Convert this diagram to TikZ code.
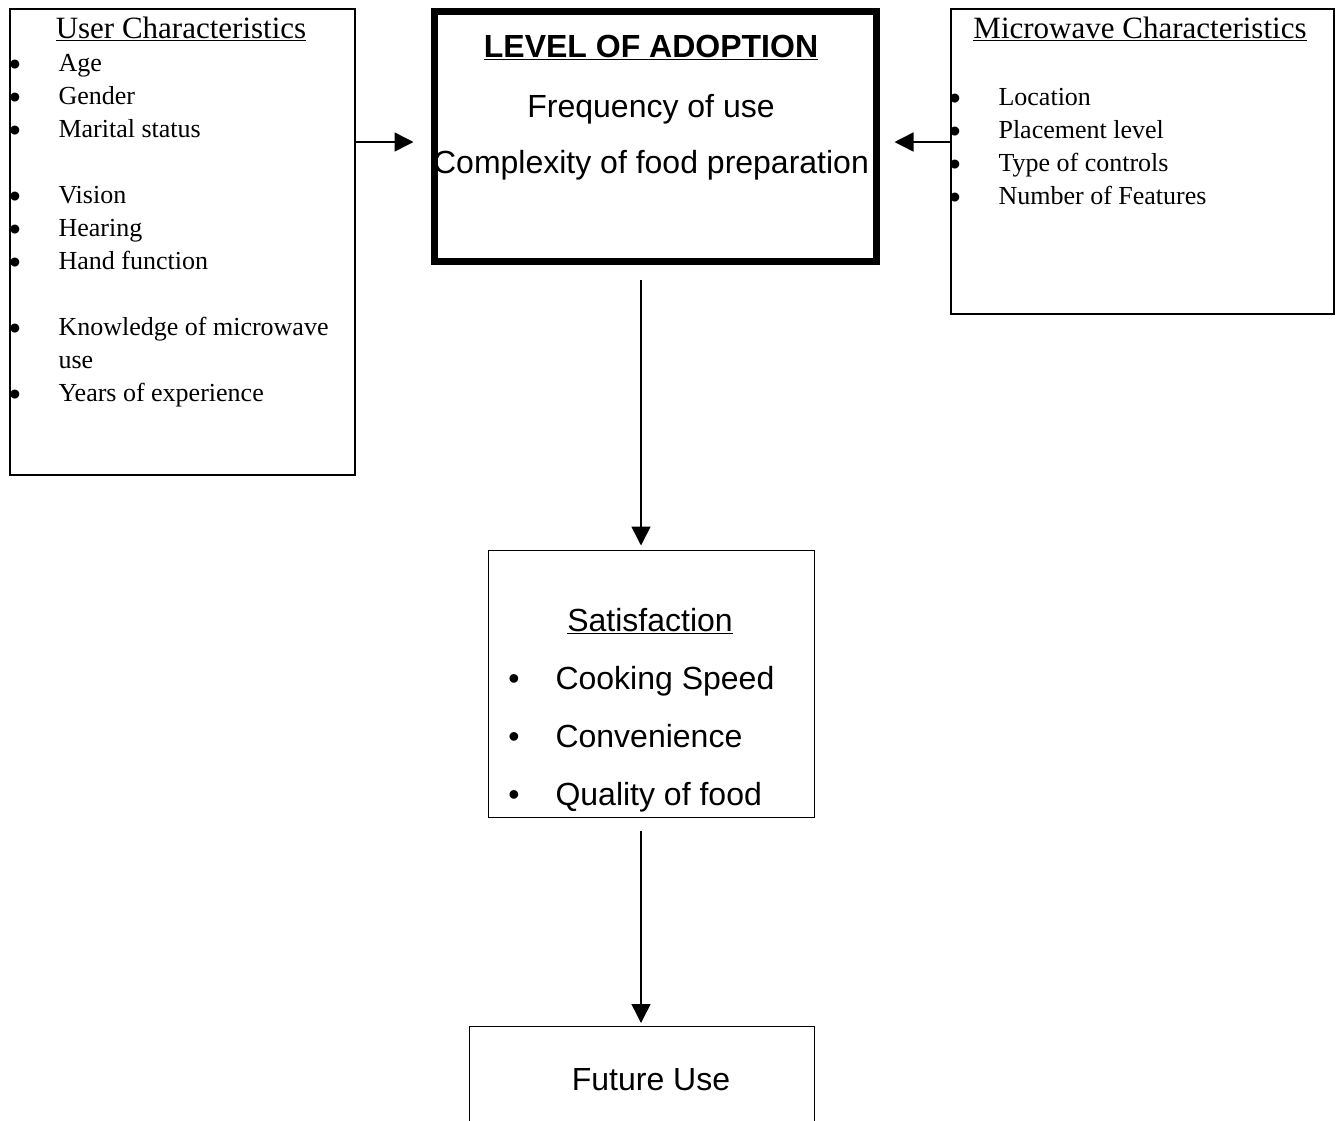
\documentclass[tikz,border=0pt]{standalone}
\usepackage{fontspec}
\setmainfont{Liberation Serif}
\setsansfont{Liberation Sans}
\usetikzlibrary{arrows.meta}

\begin{document}
\begin{tikzpicture}[x=1pt, y=-1pt,
  box/.style={draw, line width=#1, anchor=north west, inner sep=0pt},
  serifhead/.style={anchor=base, font=\fontsize{31}{36}\selectfont},
  serifitem/.style={anchor=base west, font=\fontsize{26}{30}\selectfont},
  serifdot/.style={anchor=base, yshift=-4pt, font=\sffamily\fontsize{33}{33}\selectfont},
  sanstext/.style={anchor=base, font=\sffamily\fontsize{32}{38}\selectfont},
  sansitem/.style={anchor=base west, font=\sffamily\fontsize{32}{38}\selectfont},
  sansdot/.style={anchor=base, font=\sffamily\fontsize{32}{38}\selectfont},
  link/.style={line width=1.5pt, -{Triangle[length=19pt,width=19pt]}}]
  \useasboundingbox (0,0) rectangle (1337,1120);

  % boxes
  \node[box=2pt, minimum width=345pt, minimum height=466pt] (user) at (9,8) {};
  \node[box=7pt, minimum width=442pt, minimum height=250pt] (adopt) at (430.5,7.5) {};
  \node[box=2pt, minimum width=383pt, minimum height=305pt] (micro) at (949.5,8) {};
  \node[box=1pt, minimum width=326.5pt, minimum height=267.5pt] (sat) at (487.5,549.5) {};
  \node[box=1pt, minimum width=345.5pt, minimum height=200pt] (future) at (468.5,1025.5) {};

  % user characteristics
  \node[serifhead] (usertitle) at (181,38) {\underline{User Characteristics}};
  \node[serifdot] (ub1) at (15,71) {•};
  \node[serifitem] (uage) at (55,71) {Age};
  \node[serifdot] (ub2) at (15,104) {•};
  \node[serifitem] (ugender) at (55,104) {Gender};
  \node[serifdot] (ub3) at (15,137) {•};
  \node[serifitem] (umarital) at (55,137) {Marital status};
  \node[serifdot] (ub4) at (15,203) {•};
  \node[serifitem] (uvision) at (55,203) {Vision};
  \node[serifdot] (ub5) at (15,236) {•};
  \node[serifitem] (uhearing) at (55,236) {Hearing};
  \node[serifdot] (ub6) at (15,269) {•};
  \node[serifitem] (uhand) at (55,269) {Hand function};
  \node[serifdot] (ub7) at (15,335) {•};
  \node[serifitem] (uknow) at (55,335) {Knowledge of microwave};
  \node[serifitem] (uknowb) at (55,368) {use};
  \node[serifdot] (ub8) at (15,401) {•};
  \node[serifitem] (uyears) at (55,401) {Years of experience};

  % level of adoption
  \node[sanstext, font=\sffamily\bfseries\fontsize{32}{38}\selectfont] (adopttitle) at (651,57.5) {\underline{LEVEL OF ADOPTION}};
  \node[sanstext] (afreq) at (651,117) {Frequency of use};
  \node[sanstext] (acomplex) at (651,173) {Complexity of food preparation};

  % microwave characteristics
  \node[serifhead] (microtitle) at (1140,38) {\underline{Microwave Characteristics}};
  \node[serifdot] (mb1) at (955,105) {•};
  \node[serifitem] (mloc) at (995,105) {Location};
  \node[serifdot] (mb2) at (955,138) {•};
  \node[serifitem] (mplace) at (995,138) {Placement level};
  \node[serifdot] (mb3) at (955,171) {•};
  \node[serifitem] (mtype) at (995,171) {Type of controls};
  \node[serifdot] (mb4) at (955,204) {•};
  \node[serifitem] (mnum) at (995,204) {Number of Features};

  % satisfaction
  \node[sanstext] (sattitle) at (650,631) {\underline{Satisfaction}};
  \node[sansdot] (sb1) at (514,689) {•};
  \node[sansitem] (sspeed) at (552,689) {Cooking Speed};
  \node[sansdot] (sb2) at (514,747) {•};
  \node[sansitem] (sconv) at (552,747) {Convenience};
  \node[sansdot] (sb3) at (514,805) {•};
  \node[sansitem] (squal) at (552,805) {Quality of food};

  % future use
  \node[sanstext] (futuretext) at (651,1090) {Future Use};

  % connectors
  \coordinate (row) at (0,142);
  \coordinate (col) at (641,0);
  \draw[link, shorten >=17pt] (user.east |- row) -- (adopt.west |- row);
  \draw[link, shorten >=15pt] (micro.west |- row) -- (adopt.east |- row);
  \draw[link, shorten <=15pt, shorten >=4pt] (col |- adopt.south) -- (col |- sat.north);
  \draw[link, shorten <=12.5pt, shorten >=2.5pt] (col |- sat.south) -- (col |- future.north);
\end{tikzpicture}
\end{document}
